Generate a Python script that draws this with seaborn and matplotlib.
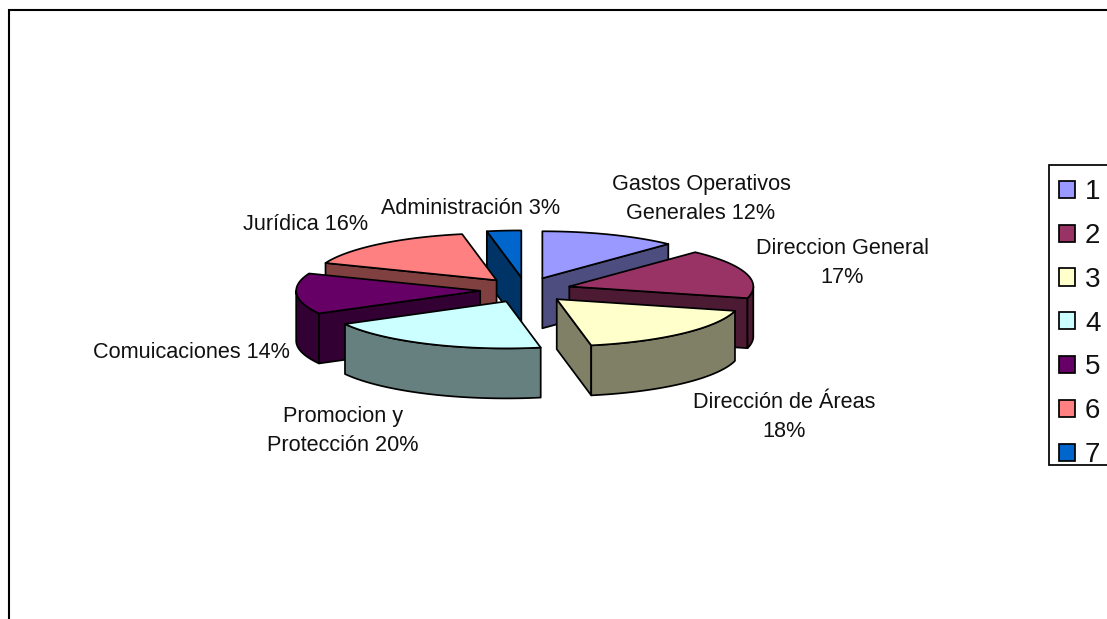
import numpy as np
import matplotlib
matplotlib.use("Agg")
import matplotlib.pyplot as plt
from matplotlib.patches import Patch, Rectangle
import seaborn as sns

legend_labels = ["1", "2", "3", "4", "5", "6", "7"]
shares = [12, 17, 18, 20, 14, 16, 3]
slice_labels = ["Gastos Operativos\nGenerales 12%", "Direccion General\n17%",
                "Dirección de Áreas\n18%", "Promocion y\nProtección 20%",
                "Comuicaciones 14%", "Jurídica 16%", "Administración 3%"]
label_xy = [(701, 199), (842, 263), (784, 417), (343, 431), (191, 353), (306, 225), (471, 209)]
slice_colors = ["#9999FF", "#993366", "#FFFFCC", "#CCFFFF", "#660066", "#FF8080", "#0066CC"]
draw_order = [6, 5, 4, 3, 0, 1, 2]

sns.set_theme(style="white")
plt.rcParams["font.family"] = ["Liberation Sans", "DejaVu Sans"]
palette = sns.color_palette(slice_colors)

CX, CY = 525.6, 290.0      # pie centre in pixels
RX, RY = 184.0, 47.0       # ellipse radii
EX, EY = 45.5, 12.6        # explosion offset
DEPTH = 50.0
LW = 1.25

fig = plt.figure(figsize=(11.07, 6.19), dpi=100, facecolor="white")
ax = fig.add_axes([0, 0, 1, 1])
ax.set_xlim(0, 1107)
ax.set_ylim(619, 0)
ax.axis("off")

# outer chart frame (open to the right and bottom, as cropped)
ax.plot([9, 9, 1107], [619, 10, 10], color="black", lw=1.5, solid_joinstyle="miter")

total = sum(shares)
edges = np.concatenate([[0], np.cumsum(shares)]) / total * 2 * np.pi
polys = {}
for i in range(len(shares)):
    a0, a1 = edges[i], edges[i + 1]
    mid = (a0 + a1) / 2
    ax0 = CX + EX * np.sin(mid)
    ay0 = CY - EY * np.cos(mid)
    polys[i] = dict(a0=a0, a1=a1, apex=(ax0, ay0))


def rim_at(apex, a):
    return apex[0] + RX * np.sin(a), apex[1] - RY * np.cos(a)


for i in draw_order:
    p = polys[i]
    a0, a1, apex = p["a0"], p["a1"], p["apex"]
    ax0, ay0 = apex
    col = palette[i]
    dark = tuple(c * 0.5 for c in col)
    style = dict(facecolor=dark, edgecolor="black", lw=LW, joinstyle="round")

    # radial cut faces that look toward the viewer
    for a, visible in ((a0, np.sin(a0) < -1e-6), (a1, np.sin(a1) > 1e-6)):
        if visible:
            x, y = rim_at(apex, a)
            ax.fill([ax0, x, x, ax0], [ay0, y, y + DEPTH, ay0 + DEPTH], **style)

    # outer curved wall: only the front half of the ellipse
    lo, hi = max(a0, np.pi / 2), min(a1, 3 * np.pi / 2)
    if hi > lo:
        t = np.linspace(lo, hi, 80)
        x, y = rim_at(apex, t)
        ax.fill(np.r_[x, x[::-1]], np.r_[y, (y + DEPTH)[::-1]], **style)

    # top face
    t = np.linspace(a0, a1, 120)
    x, y = rim_at(apex, t)
    ax.fill(np.r_[ax0, x], np.r_[ay0, y], facecolor=col, edgecolor="black", lw=LW, joinstyle="round")

for text, (x, y) in zip(slice_labels, label_xy):
    ax.text(x, y, text, ha="center", va="center", fontsize=15.6, color="#111111", linespacing=1.52)

# legend box, cropped by the right edge of the picture
ax.add_patch(Rectangle((1048.5, 165), 90, 299.5, facecolor="white", edgecolor="black", lw=1.25, clip_on=False))
handles = [Patch(facecolor=palette[i], edgecolor="black", lw=1.25) for i in range(len(shares))]
leg = ax.legend(handles, legend_labels, loc="upper left",
                bbox_to_anchor=(1043.5 / 1107, 1 - 164 / 619),
                borderaxespad=0, fontsize=20, frameon=False,
                handlelength=0.58, handleheight=0.58,
                handletextpad=0.36, borderpad=0.55, labelspacing=0.64, labelcolor="#111111")

fig.savefig("out.png", dpi=100, facecolor="white")
